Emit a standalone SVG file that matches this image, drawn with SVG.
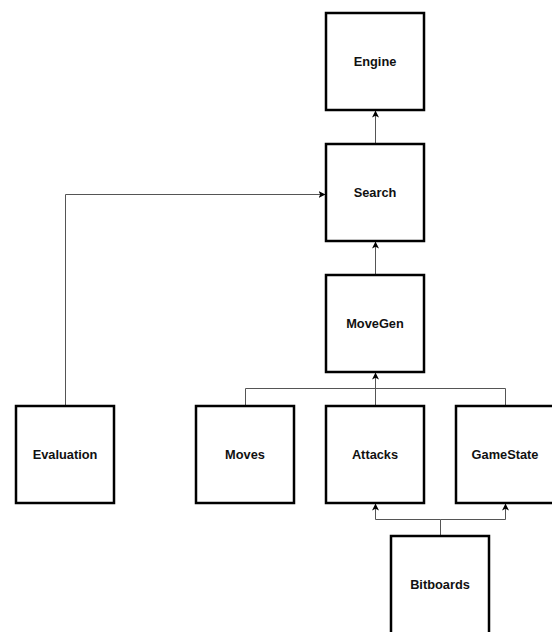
<svg xmlns="http://www.w3.org/2000/svg" width="552" height="632" viewBox="0 0 552 632">
<style>
.box{fill:#fff;stroke:#000;stroke-width:2.5}
.lbl{font-family:"Liberation Sans",Arial,Helvetica,sans-serif;font-size:12.8px;font-weight:bold;fill:#111;text-anchor:middle;dominant-baseline:central}
.c{fill:none;stroke:#555;stroke-width:1}
</style>
<defs>
<marker id="ah" viewBox="0 0 10 10" refX="10" refY="5" markerWidth="7" markerHeight="7" markerUnits="userSpaceOnUse" orient="auto">
<path d="M0,0 L10,5 L0,10 L2.5,5 Z" fill="#000"/>
</marker>
</defs>
<rect width="552" height="632" fill="#fff"/>
<g id="connectors">
<path class="c" d="M375.5,143 V110.5" marker-end="url(#ah)"/>
<path class="c" d="M375.5,274 V241.5" marker-end="url(#ah)"/>
<path class="c" d="M375.5,405 V372.5" marker-end="url(#ah)"/>
<path class="c" d="M245.5,405 V388.5 H375.5"/>
<path class="c" d="M505.5,405 V388.5 H375.5"/>
<path class="c" d="M65.5,405 V194.5 H325.5" marker-end="url(#ah)"/>
<path class="c" d="M440.5,535 V519.5 H375.5 V503.5" marker-end="url(#ah)"/>
<path class="c" d="M440.5,519.5 H505.5 V503.5" marker-end="url(#ah)"/>
</g>
<g id="engine"><rect class="box" x="326" y="13" width="98" height="97"/><text class="lbl" x="375" y="61.5">Engine</text></g>
<g id="search"><rect class="box" x="326" y="144" width="98" height="97"/><text class="lbl" x="375" y="192.5">Search</text></g>
<g id="movegen"><rect class="box" x="326" y="275" width="98" height="97"/><text class="lbl" x="375" y="323.5">MoveGen</text></g>
<g id="evaluation"><rect class="box" x="16" y="406" width="98" height="97"/><text class="lbl" x="65" y="454.5">Evaluation</text></g>
<g id="moves"><rect class="box" x="196" y="406" width="98" height="97"/><text class="lbl" x="245" y="454.5">Moves</text></g>
<g id="attacks"><rect class="box" x="326" y="406" width="98" height="97"/><text class="lbl" x="375" y="454.5">Attacks</text></g>
<g id="gamestate"><rect class="box" x="456" y="406" width="98" height="97"/><text class="lbl" x="505" y="454.5">GameState</text></g>
<g id="bitboards"><rect class="box" x="391" y="536" width="98" height="100"/><text class="lbl" x="440" y="584.5">Bitboards</text></g>
</svg>
